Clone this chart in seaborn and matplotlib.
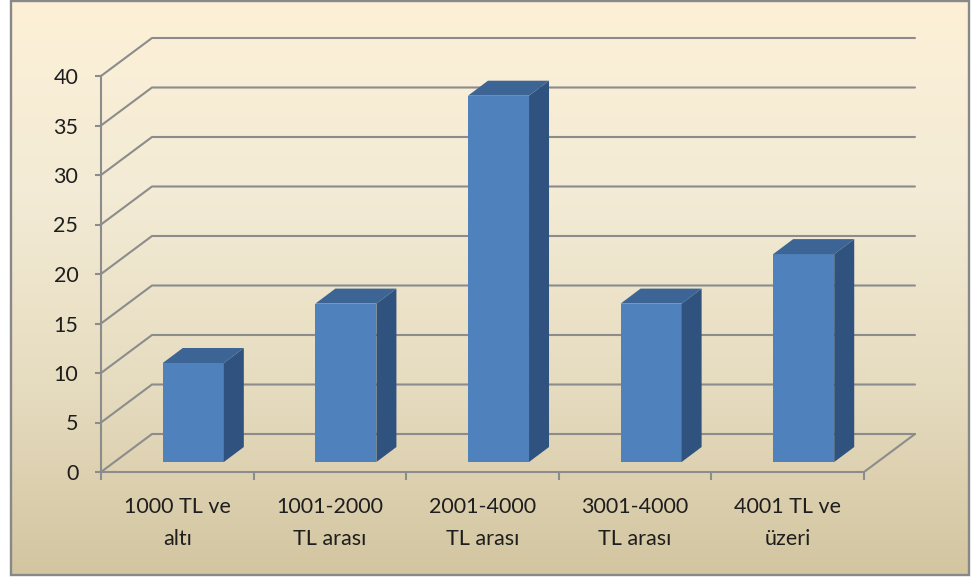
import numpy as np
import pandas as pd
import matplotlib
matplotlib.use("Agg")
import matplotlib.pyplot as plt
import seaborn as sns
from matplotlib import transforms as mtrans
from matplotlib.patches import Polygon, Rectangle
from matplotlib.lines import Line2D
from matplotlib.colors import LinearSegmentedColormap

# ---- data ----
categories = ["1000 TL ve\naltı", "1001-2000\nTL arası", "2001-4000\nTL arası",
              "3001-4000\nTL arası", "4001 TL ve\nüzeri"]
values = [10, 16, 37, 16, 21]
yticks = [0, 5, 10, 15, 20, 25, 30, 35, 40]

W, H = 973, 581
sns.set_theme(style="white")
plt.rcParams["font.family"] = ["Lato", "DejaVu Sans"]

fig = plt.figure(figsize=(W / 100, H / 100), dpi=100)
fig.patch.set_facecolor("white")

# background panel with gradient
bg = fig.add_axes([0, 0, 1, 1], zorder=0)
bg.set_xlim(0, W)
bg.set_ylim(H, 0)
bg.axis("off")
cmap = LinearSegmentedColormap.from_list("bg", ["#FDF0D7", "#F3EBD5", "#E6DCC0", "#D3C5A0"])
grad = np.linspace(0, 1, 256)[:, None]
bg.imshow(grad, extent=(11, 969, 575, 1), aspect="auto", cmap=cmap, origin="upper")
bg.add_patch(Rectangle((11, 1), 958, 574, fill=False, ec="#888888", lw=1.7))

# main axes (front plane)
ax = fig.add_axes([101 / W, (H - 472) / H, 763 / W, 396 / H], zorder=1)
ax.patch.set_alpha(0)

df = pd.DataFrame({"cat": categories, "val": values})
sns.barplot(data=df, x="cat", y="val", color="#4F81BD", width=0.4, saturation=1,
            ax=ax, zorder=3, linewidth=0)
ax.set_xlim(-0.5, 4.5)
ax.set_ylim(0, 40)
ax.set_xlabel("")
ax.set_ylabel("")

grid_c = "#8C8C8C"
ident = mtrans.IdentityTransform()
WALL = np.array([51.0, 38.0])
BAR_OFF = np.array([16.0, 10.0])
BAR_D = np.array([20.0, 15.0])

# gridlines on back wall + left wall
for v in yticks:
    a = ax.transData.transform((-0.5, v))
    b = a + WALL
    c = ax.transData.transform((4.5, v)) + WALL
    ax.add_line(Line2D([a[0], b[0], c[0]], [a[1], b[1], c[1]], transform=ident,
                       color=grid_c, lw=1.5, zorder=1, clip_on=False))
# floor right edge
r0 = ax.transData.transform((4.5, 0))
r1 = r0 + WALL
ax.add_line(Line2D([r0[0], r1[0]], [r0[1], r1[1]], transform=ident,
                   color=grid_c, lw=1.5, zorder=1, clip_on=False))

# 3D bars
off_tr = mtrans.offset_copy(ax.transData, fig=fig, x=BAR_OFF[0], y=BAR_OFF[1], units="dots")
for p in list(ax.patches):
    x0, w, h = p.get_x(), p.get_width(), p.get_height()
    p.set_transform(off_tr)
    p.set_clip_on(False)
    br = ax.transData.transform((x0 + w, 0)) + BAR_OFF
    tr = ax.transData.transform((x0 + w, h)) + BAR_OFF
    tl = ax.transData.transform((x0, h)) + BAR_OFF
    side = Polygon([br, tr, tr + BAR_D, br + BAR_D], closed=True, transform=ident,
                   fc="#30527E", ec="none", zorder=3, clip_on=False)
    top = Polygon([tl, tr, tr + BAR_D, tl + BAR_D], closed=True, transform=ident,
                  fc="#3C6494", ec="none", zorder=3, clip_on=False)
    ax.add_patch(side)
    ax.add_patch(top)

# spines & ticks
for s in ["top", "right"]:
    ax.spines[s].set_visible(False)
for s in ["left", "bottom"]:
    ax.spines[s].set_color(grid_c)
    ax.spines[s].set_linewidth(1.5)
    ax.spines[s].set_zorder(2)

ax.set_yticks(yticks)
ax.set_yticklabels([str(t) for t in yticks])
ax.tick_params(axis="y", direction="out", length=4.3, width=1.5, color=grid_c,
               pad=12, labelsize=15.5, labelcolor="#1E1E1E", left=True)
ax.set_xticks(range(len(categories)))
ax.set_xticklabels(categories, fontsize=15.5, color="#1E1E1E", linespacing=1.75)
ax.set_xticks(np.arange(-0.5, len(categories), 1.0), minor=True)
ax.tick_params(axis="x", which="major", length=0, pad=18)
ax.tick_params(axis="x", which="minor", direction="out", length=5.8, width=1.5,
               color=grid_c, bottom=True)

fig.savefig("out.png", dpi=100)
